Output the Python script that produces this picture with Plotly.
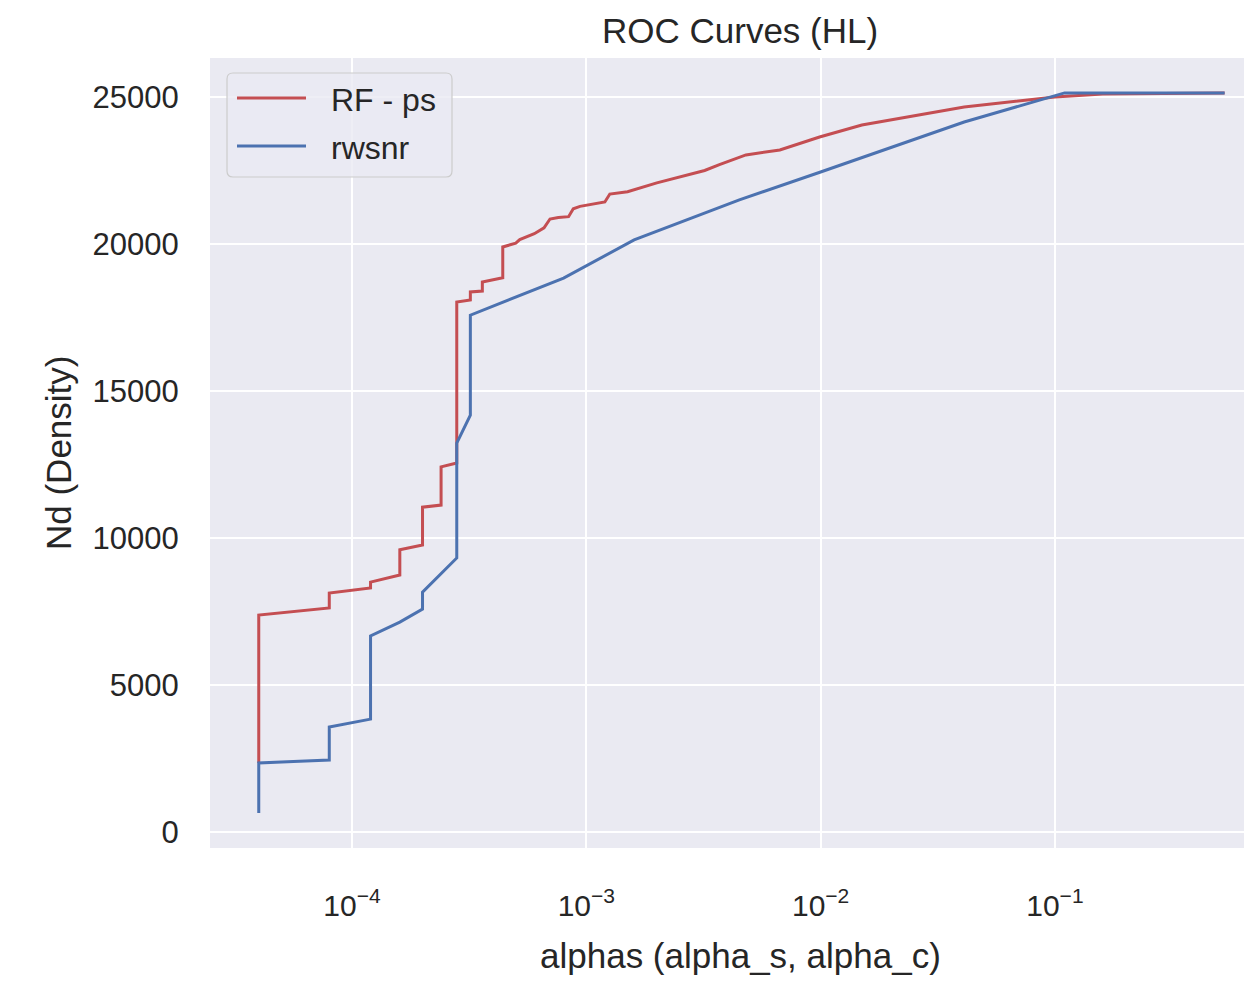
import plotly.graph_objects as go

# ROC curves: detection count vs. false-alarm level (log scale)
series_names = ["RF - ps", "rwsnr"]
series_colors = ["#C44E52", "#4C72B0"]

alpha_rf = [4e-5, 4e-5, 8e-5, 8e-5, 1.2e-4, 1.2e-4, 1.6e-4, 1.6e-4, 2.0e-4, 2.0e-4,
            2.4e-4, 2.4e-4, 2.8e-4, 2.8e-4, 3.2e-4, 3.2e-4, 3.6e-4, 3.6e-4, 4.4e-4, 4.4e-4,
            5.0e-4, 5.2e-4, 6.0e-4, 6.6e-4, 7.0e-4, 7.6e-4, 8.4e-4, 8.8e-4, 9.4e-4, 1.2e-3,
            1.26e-3, 1.5e-3, 2.0e-3, 2.5e-3, 3.2e-3, 3.7e-3, 4.8e-3, 6.7e-3, 9.9e-3, 1.5e-2,
            4.1e-2, 0.1, 0.16, 0.53]
nd_rf = [2350, 7380, 7620, 8130, 8300, 8500, 8740, 9600, 9760, 11050,
         11120, 12420, 12550, 18030, 18100, 18370, 18400, 18710, 18850, 19900,
         20030, 20150, 20350, 20550, 20850, 20900, 20930, 21200, 21280, 21430,
         21700, 21780, 22080, 22280, 22500, 22700, 23030, 23200, 23640, 24050,
         24660, 25000, 25100, 25140]

alpha_rw = [4e-5, 4e-5, 8e-5, 8e-5, 1.2e-4, 1.2e-4, 1.6e-4, 2.0e-4, 2.0e-4, 2.8e-4,
            2.8e-4, 3.2e-4, 3.2e-4, 8.0e-4, 1.6e-3, 4.5e-3, 1.0e-2, 4.1e-2, 0.11, 0.53]
nd_rw = [650, 2350, 2450, 3570, 3840, 6670, 7140, 7580, 8160, 9320,
         13230, 14180, 17580, 18840, 20140, 21500, 22450, 24150, 25140, 25140]

y_ticks = [0, 5000, 10000, 15000, 20000, 25000]
x_ticks = [1e-4, 1e-3, 1e-2, 1e-1]
x_ticktext = ["10<sup>\u22124</sup>", "10<sup>\u22123</sup>", "10<sup>\u22122</sup>", "10<sup>\u22121</sup>"]

FONT = "Liberation Sans, Arial, sans-serif"
TEXT = "#262626"
BG = "#EAEAF2"

W, H = 1244, 988
ML, MR, MT, MB = 210, 0, 58, 140
PW, PH = W - ML - MR, H - MT - MB


def px(xp):
    """Horizontal pixel position -> paper fraction."""
    return (xp - ML) / PW


def py(yp):
    """Vertical pixel position (from top) -> paper fraction."""
    return (H - MB - yp) / PH


fig = go.Figure()
for xs, ys, name, color in [(alpha_rf, nd_rf, series_names[0], series_colors[0]),
                            (alpha_rw, nd_rw, series_names[1], series_colors[1])]:
    fig.add_trace(go.Scatter(x=xs, y=ys, mode="lines", name=name,
                             line=dict(color=color, width=3), showlegend=False))

# legend box with rounded corners, drawn in paper space
x0, x1, y0, y1, r = 227, 452, 73, 177, 6
rx, ry = r / PW, r / PH
X0, X1, Y0, Y1 = px(x0), px(x1), py(y1), py(y0)
box_path = (f"M{X0 + rx},{Y1} L{X1 - rx},{Y1} Q{X1},{Y1} {X1},{Y1 - ry} "
            f"L{X1},{Y0 + ry} Q{X1},{Y0} {X1 - rx},{Y0} L{X0 + rx},{Y0} "
            f"Q{X0},{Y0} {X0},{Y0 + ry} L{X0},{Y1 - ry} Q{X0},{Y1} {X0 + rx},{Y1} Z")
shapes = [dict(type="path", path=box_path, xref="paper", yref="paper",
               fillcolor="rgba(234,234,242,0.8)", line=dict(color="#CCCCCC", width=1.2),
               layer="above")]
annotations = []
for i, (name, color) in enumerate(zip(series_names, series_colors)):
    ly = 98 + i * 48
    shapes.append(dict(type="line", xref="paper", yref="paper",
                       x0=px(237), x1=px(306), y0=py(ly), y1=py(ly),
                       line=dict(color=color, width=3), layer="above"))
    annotations.append(dict(text=name, x=px(329), y=py(ly + 2), xref="paper", yref="paper",
                            xanchor="left", yanchor="middle", showarrow=False,
                            font=dict(size=32, color=TEXT)))

annotations += [
    dict(text="ROC Curves (HL)", x=px(740), y=py(30), xref="paper", yref="paper",
         xanchor="center", yanchor="middle", showarrow=False,
         font=dict(size=35, color=TEXT)),
    dict(text="alphas (alpha_s, alpha_c)", x=px(740), y=py(955), xref="paper", yref="paper",
         xanchor="center", yanchor="middle", showarrow=False,
         font=dict(size=35, color=TEXT)),
    dict(text="Nd (Density)", x=px(58), y=py(453), xref="paper", yref="paper",
         xanchor="center", yanchor="middle", showarrow=False, textangle=-90,
         font=dict(size=35, color=TEXT)),
]

fig.update_layout(
    width=W, height=H,
    margin=dict(l=ML, r=MR, t=MT, b=MB),
    paper_bgcolor="white", plot_bgcolor=BG,
    font=dict(family=FONT, color=TEXT, size=31),
    showlegend=False,
    xaxis=dict(type="log", range=[-4.606, -0.193],
               tickvals=x_ticks, ticktext=x_ticktext,
               showgrid=True, gridcolor="white", gridwidth=2,
               zeroline=False, showline=False,
               ticks="outside", ticklen=31, tickcolor="rgba(0,0,0,0)",
               tickfont=dict(size=30, color=TEXT)),
    yaxis=dict(range=[-544, 26327], tickvals=y_ticks, tickformat="d",
               showgrid=True, gridcolor="white", gridwidth=2,
               zeroline=False, showline=False,
               ticks="outside", ticklen=24, tickcolor="rgba(0,0,0,0)",
               tickfont=dict(size=31, color=TEXT)),
    shapes=shapes,
    annotations=annotations,
)

fig.write_html("out.html")
